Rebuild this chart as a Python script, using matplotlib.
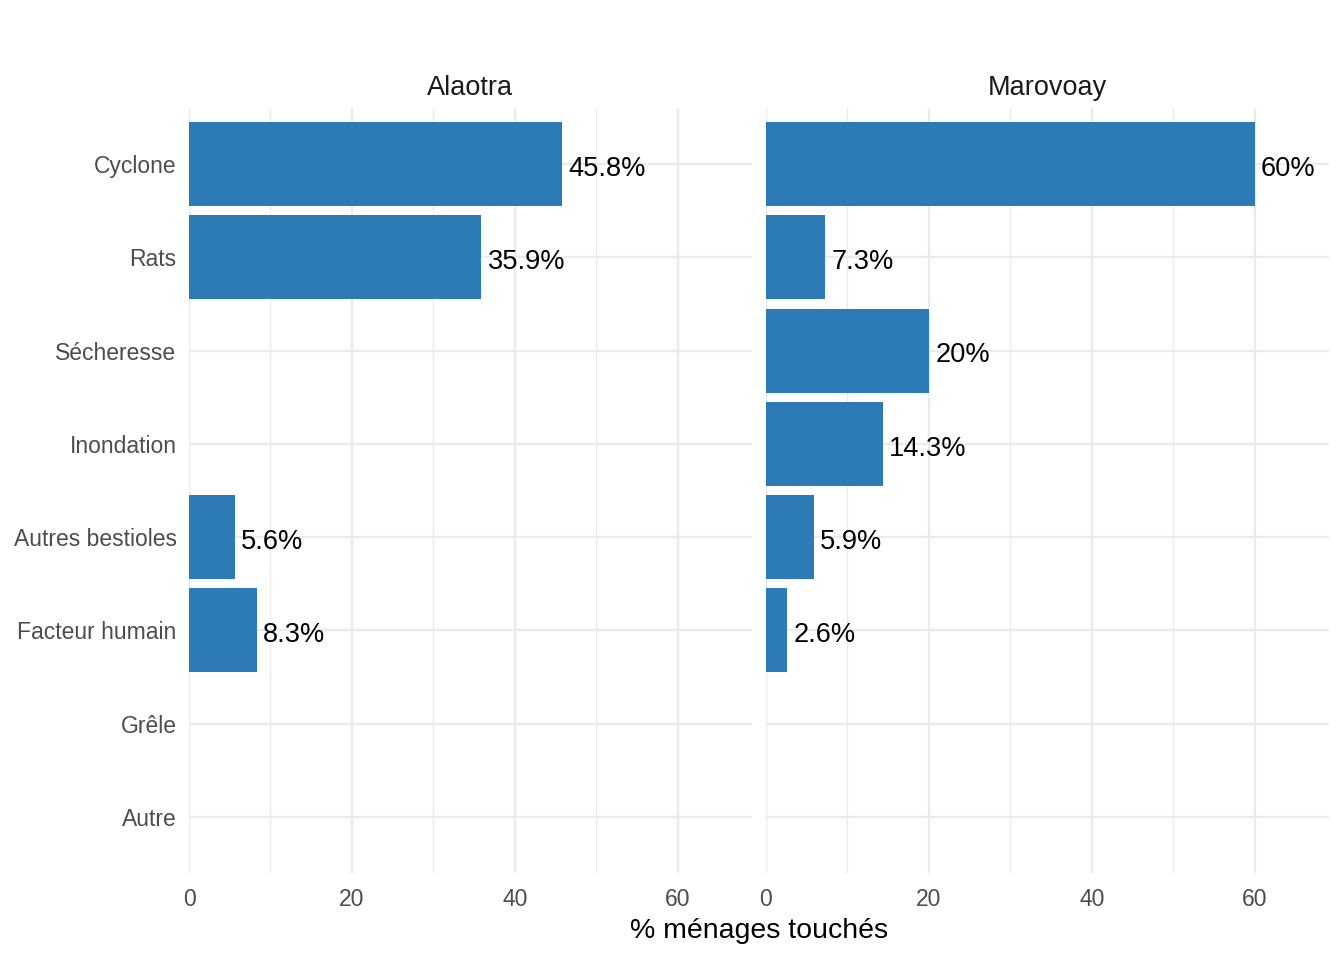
import matplotlib
matplotlib.use('Agg')
import matplotlib.pyplot as plt
import numpy as np

plt.rcParams['font.family'] = ['Liberation Sans', 'DejaVu Sans']

categories = ['Cyclone', 'Rats', 'Sécheresse', 'Inondation', 'Autres bestioles',
              'Facteur humain', 'Grêle', 'Autre']
regions = ['Alaotra', 'Marovoay']
alaotra = [45.8, 35.9, np.nan, np.nan, 5.6, 8.3, np.nan, np.nan]
marovoay = [60, 7.3, 20, 14.3, 5.9, 2.6, np.nan, np.nan]
values = [alaotra, marovoay]
xticks = [0, 20, 40, 60]

bar_color = '#2C7BB6'
grid_color = '#EBEBEB'

fig = plt.figure(figsize=(13.44, 9.6), dpi=100)
panel_left = [189 / 1344, 766 / 1344]
panel_w = 563 / 1344
panel_b = 1 - 873 / 960
panel_h = 765 / 960

ypos = np.arange(len(categories))

for i, region in enumerate(regions):
    ax = fig.add_axes([panel_left[i], panel_b, panel_w, panel_h])
    vals = np.array(values[i], dtype=float)
    ok = ~np.isnan(vals)
    ax.barh(ypos[ok], vals[ok], height=0.9, color=bar_color, zorder=2)
    for y, v in zip(ypos[ok], vals[ok]):
        lab = ('%.1f' % v).rstrip('0').rstrip('.') + '%'
        ax.annotate(lab, (v, y), xytext=(4.5, -1.2), textcoords='offset points',
                    ha='left', va='center_baseline', fontsize=19.6, color='black', zorder=3)

    ax.set_xlim(0, 69.1)
    ax.set_ylim(len(categories) - 1 + 0.6, -0.6)
    ax.set_xticks(xticks)
    ax.set_xticks([10, 30, 50], minor=True)
    ax.set_yticks(ypos)
    if i == 0:
        ax.set_yticklabels(categories)
    else:
        ax.set_yticklabels([])
    ax.grid(True, which='major', color=grid_color, linewidth=1.7, zorder=0)
    ax.grid(True, which='minor', axis='x', color=grid_color, linewidth=1.0, zorder=0)
    ax.set_axisbelow(True)
    ax.tick_params(which='both', length=0, labelsize=16.5, labelcolor='#4D4D4D')
    ax.tick_params(axis='x', pad=10.5)
    ax.tick_params(axis='y', pad=9)
    for s in ax.spines.values():
        s.set_visible(False)
    ax.set_title(region, fontsize=19.5, color='#1A1A1A', pad=9.5)

fig.text(759 / 1344, 1 - 931 / 960, '% ménages touchés', ha='center', va='center',
         fontsize=20.5, color='black')

fig.savefig('out.png', dpi=100)
